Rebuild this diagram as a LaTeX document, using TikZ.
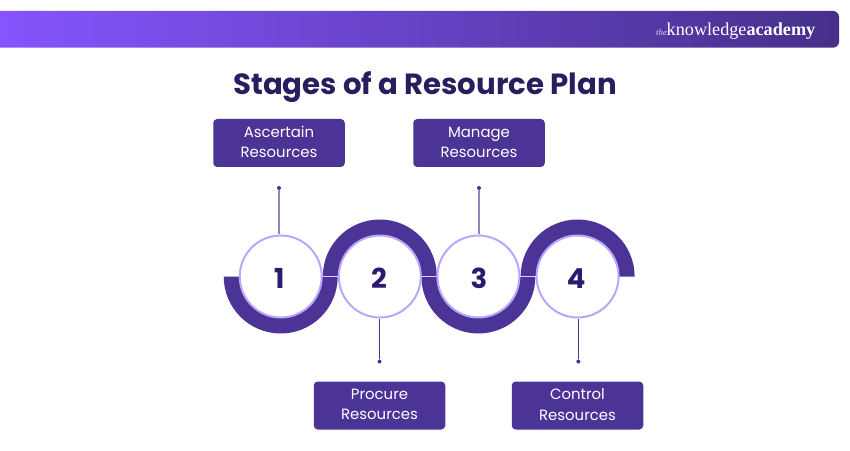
\documentclass[tikz,border=0pt]{standalone}
\usepackage{fontspec}
\setmainfont{Poppins}
\newfontfamily\logofont{Liberation Serif}
\usetikzlibrary{calc}
\definecolor{band}{HTML}{4B3496}
\definecolor{ringc}{HTML}{B9A6FF}
\definecolor{ink}{HTML}{2A1D5E}
\definecolor{digit}{HTML}{2D1A70}
\definecolor{bannerL}{HTML}{8655FF}
\definecolor{bannerR}{HTML}{46308A}
\newcommand{\digitshift}[1]{\raisebox{-1.8pt}[\height][\depth]{#1}}
\newcommand{\labelshift}[1]{\raisebox{0.9pt}[\height][\depth]{#1}}
\tikzset{
  x=1pt,y=1pt,
  stagebox/.style={draw=none,fill=band,rounded corners=4pt,minimum width=131.5pt,minimum height=48pt,inner sep=0pt,
    text=white,font=\fontsize{14.9}{20.3}\selectfont,align=center},
  stagecircle/.style={circle,draw=ringc,line width=2pt,fill=white,minimum size=82pt,inner sep=0pt,
    text=digit,font=\fontsize{27.5}{27.5}\selectfont\bfseries},
  tipdot/.style={circle,fill=band,minimum size=4pt,inner sep=0pt},
  stem/.style={draw=band,line width=1pt},
  softstem/.style={draw=band!60,line width=1.6pt},
  joiner/.style={draw=ringc!50,line width=1pt},
  bandfill/.style={fill=band,draw=none},
}
\begin{document}
\begin{tikzpicture}
\useasboundingbox (0,0) rectangle (850,450);
% banner
\shade[left color=bannerL,right color=bannerR,rounded corners=6pt]
  (-10,439) -- (839,439) -- (839,402.3) -- (-10,402.3) -- cycle;
\node[text=white,anchor=base west,inner sep=0pt,font=\logofont] (logo) at (656,414)
  {{\fontsize{9}{9}\selectfont\itshape\color{white!80!band} the}\kern-0.5pt{\fontsize{18.2}{18.2}\selectfont knowledge\textbf{academy}}};
\node[text=ink,inner sep=0pt,anchor=base,font=\fontsize{29.2}{29.2}\selectfont\bfseries] (title) at (425,355.5) {Stages of a Resource Plan};
% bands
\coordinate (b1) at (280.7,173.5);
\coordinate (b2) at (379.8,173.5);
\coordinate (b3) at (478.4,173.5);
\coordinate (b4) at (577.6,173.5);
\path[bandfill] (b1) ++(180:57) arc[start angle=180,end angle=360,radius=57] -- ++(-15.5,0) arc[start angle=360,end angle=180,radius=41.5] -- cycle;
\path[bandfill] (b2) ++(180:57) arc[start angle=180,end angle=0,radius=57] -- ++(-15.5,0) arc[start angle=0,end angle=180,radius=41.5] -- cycle;
\path[bandfill] (b3) ++(180:57) arc[start angle=180,end angle=360,radius=57] -- ++(-15.5,0) arc[start angle=360,end angle=180,radius=41.5] -- cycle;
\path[bandfill] (b4) ++(180:57) arc[start angle=180,end angle=0,radius=57] -- ++(-15.5,0) arc[start angle=0,end angle=180,radius=41.5] -- cycle;
% circles
\node[stagecircle] (c1) at (b1) {\digitshift{\kern-3pt 1}};
\node[stagecircle] (c2) at (b2) {\digitshift{\kern-1.5pt 2}};
\node[stagecircle] (c3) at (b3) {\digitshift{\kern1pt 3}};
\node[stagecircle] (c4) at (b4) {\digitshift{\kern-3pt 4}};
% joiners
\draw[joiner] (c1.east) -- (c2.west);
\draw[joiner] (c2.east) -- (c3.west);
\draw[joiner] (c3.east) -- (c4.west);
% boxes
\node[stagebox] (s1) at (279,307) {\labelshift{Ascertain}\\\labelshift{Resources}};
\node[stagebox] (s2) at (379.5,44.5) {\labelshift{Procure}\\\labelshift{Resources}};
\node[stagebox] (s3) at (479,307) {\labelshift{Manage}\\\labelshift{Resources}};
\node[stagebox] (s4) at (577.5,44.5) {\labelshift{Control}\\\labelshift{Resources}};
% stems
\node[tipdot] (d1) at (279,262) {};
\node[tipdot] (d2) at (379.5,88.5) {};
\node[tipdot] (d3) at (479,262) {};
\node[tipdot] (d4) at (578.3,88.5) {};
\draw[softstem] (d1) -- (d1 |- c1.north);
\draw[stem] (d2) -- (d2 |- c2.south);
\draw[softstem] (d3) -- (d3 |- c3.north);
\draw[stem] (d4) -- (d4 |- c4.south);
\end{tikzpicture}
\end{document}
